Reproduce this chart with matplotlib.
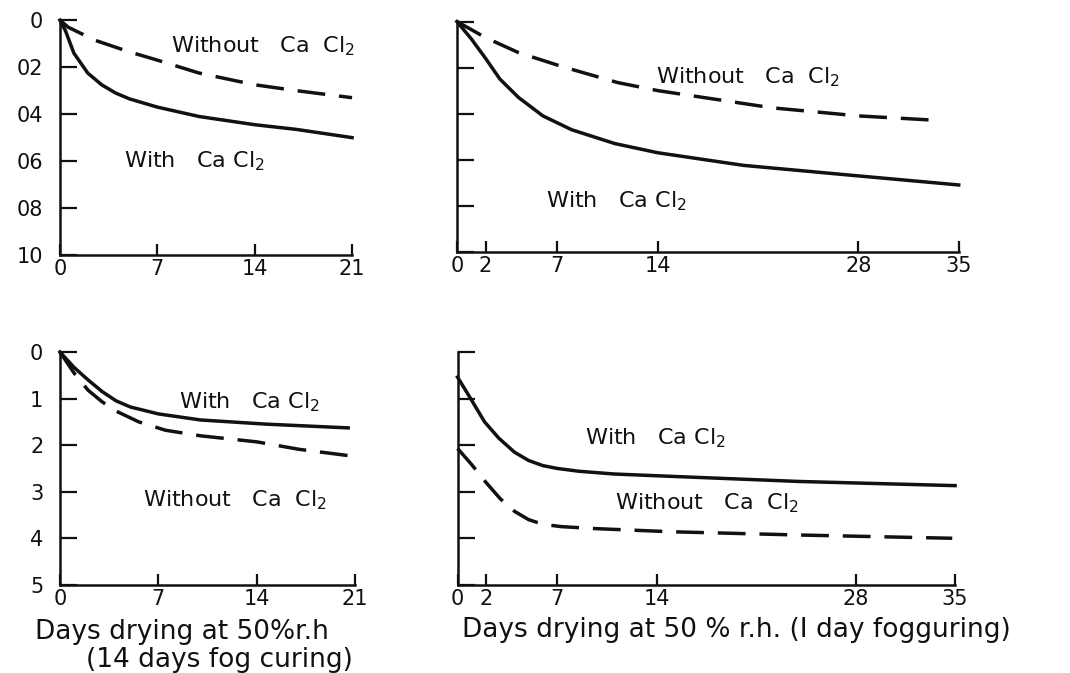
import matplotlib.pyplot as plt

# Top left: 14 days fog curing, y scale 0..1.0
tl_days_with = [0, 0.4, 1, 2, 3, 4, 5, 7, 10, 14, 17, 21]
tl_with = [0, 0.045, 0.14, 0.225, 0.275, 0.31, 0.335, 0.37, 0.41, 0.445, 0.465, 0.50]
tl_days_without = [0, 0.6, 2.5, 5, 7, 10, 14, 17, 21]
tl_without = [0, 0.03, 0.085, 0.135, 0.17, 0.225, 0.275, 0.30, 0.33]

# Top right: 1 day fog curing, y scale 0..1.0
tr_days_with = [0, 1, 2, 3, 4.3, 6, 8, 11, 14, 20, 27, 35]
tr_with = [0, 0.075, 0.16, 0.25, 0.33, 0.41, 0.47, 0.53, 0.57, 0.625, 0.665, 0.71]
tr_days_without = [0, 2, 4.3, 7.3, 11.2, 14, 22, 28, 33.7]
tr_without = [0, 0.07, 0.135, 0.195, 0.265, 0.30, 0.375, 0.41, 0.43]

# Bottom left: 14 days fog curing, y scale 0..5
bl_days_with = [0, 1, 2, 3, 4, 5, 7, 10, 14.7, 20.5]
bl_with = [0, 0.33, 0.60, 0.85, 1.05, 1.18, 1.33, 1.46, 1.55, 1.63]
bl_days_without = [0, 1, 2, 3, 4, 5.6, 7.5, 10, 14, 17, 20.9]
bl_without = [0, 0.45, 0.82, 1.07, 1.27, 1.50, 1.68, 1.80, 1.93, 2.09, 2.24]

# Bottom right: 1 day fog curing, y scale 0..5
br_days_with = [0, 0.9, 1.9, 2.9, 4, 5, 6, 7, 8.5, 11, 15, 24, 35]
br_with = [0.54, 0.99, 1.50, 1.85, 2.15, 2.33, 2.44, 2.50, 2.56, 2.62, 2.67, 2.78, 2.87]
br_days_without = [0, 1, 2, 3, 4, 5, 6, 7.3, 9.5, 15, 24, 34.8]
br_without = [2.07, 2.42, 2.80, 3.15, 3.42, 3.60, 3.70, 3.75, 3.79, 3.86, 3.93, 4.00]

x_short = [0, 7, 14, 21]
x_long = [0, 2, 7, 14, 28, 35]
y_small = [0, 0.2, 0.4, 0.6, 0.8, 1.0]
y_small_labels = ['0', '02', '04', '06', '08', '10']
y_big = [0, 1, 2, 3, 4, 5]

ink = '#111111'
fs_tick = 15
fs_note = 16
fs_label = 19
lw = 2.5
dash = (0, (8, 4))

fig = plt.figure(figsize=(10.7, 6.73), dpi=100)
ax_tl = fig.add_axes([0.056, 0.621, 0.273, 0.349])
ax_tr = fig.add_axes([0.427, 0.626, 0.469, 0.342])
ax_bl = fig.add_axes([0.056, 0.131, 0.276, 0.346])
ax_br = fig.add_axes([0.4276, 0.131, 0.465, 0.346])


def style(ax, xt, xmax, yt, ymax, ylabels):
    ax.set_xlim(0, xmax)
    ax.set_ylim(ymax, 0)
    for s in ['top', 'right']:
        ax.spines[s].set_visible(False)
    for s in ['left', 'bottom']:
        ax.spines[s].set_linewidth(1.8)
        ax.spines[s].set_color(ink)
    ax.set_xticks(xt)
    ax.set_xticklabels([str(v) for v in xt], fontsize=fs_tick)
    ax.set_yticks(yt)
    ax.set_yticklabels(ylabels, fontsize=fs_tick)
    ax.tick_params(axis='x', direction='in', length=8, width=1.6, pad=3, colors=ink)
    ax.tick_params(axis='y', direction='in', length=12, width=1.6, pad=12, colors=ink)


style(ax_tl, x_short, 21, y_small, 1.0, y_small_labels)
style(ax_tr, x_long, 35, y_small, 1.0, [''] * len(y_small))
style(ax_bl, x_short, 21, y_big, 5, [str(v) for v in y_big])
style(ax_br, x_long, 35, y_big, 5, [''] * len(y_big))

# curves: solid = with CaCl2, dashed = without
ax_tl.plot(tl_days_with, tl_with, color=ink, lw=lw, clip_on=False)
ax_tl.plot(tl_days_without, tl_without, color=ink, lw=lw, ls=dash, clip_on=False)
ax_tr.plot(tr_days_with, tr_with, color=ink, lw=lw, clip_on=False)
ax_tr.plot(tr_days_without, tr_without, color=ink, lw=lw, ls=dash, clip_on=False)
ax_bl.plot(bl_days_with, bl_with, color=ink, lw=lw, clip_on=False)
ax_bl.plot(bl_days_without, bl_without, color=ink, lw=lw, ls=dash, clip_on=False)
ax_br.plot(br_days_with, br_with, color=ink, lw=lw, clip_on=False)
ax_br.plot(br_days_without, br_without, color=ink, lw=lw, ls=dash, clip_on=False)

with_txt = 'With   Ca Cl$_2$'
without_txt = 'Without   Ca  Cl$_2$'

ax_tl.text(8.0, 0.11, without_txt, fontsize=fs_note, color=ink, va='center')
ax_tl.text(4.6, 0.60, with_txt, fontsize=fs_note, color=ink, va='center')
ax_tr.text(13.9, 0.24, without_txt, fontsize=fs_note, color=ink, va='center')
ax_tr.text(6.2, 0.78, with_txt, fontsize=fs_note, color=ink, va='center')
ax_bl.text(8.5, 1.07, with_txt, fontsize=fs_note, color=ink, va='center')
ax_bl.text(5.9, 3.18, without_txt, fontsize=fs_note, color=ink, va='center')
ax_br.text(9.0, 1.85, with_txt, fontsize=fs_note, color=ink, va='center')
ax_br.text(11.1, 3.24, without_txt, fontsize=fs_note, color=ink, va='center')

fig.text(0.033, 0.061, 'Days drying at 50%r.h', fontsize=fs_label, color=ink, va='center')
fig.text(0.080, 0.019, '(14 days fog curing)', fontsize=fs_label, color=ink, va='center')
fig.text(0.432, 0.064, 'Days drying at 50 % r.h. (I day fogguring)', fontsize=fs_label,
         color=ink, va='center')

fig.savefig('out.png', dpi=100, facecolor='white')
